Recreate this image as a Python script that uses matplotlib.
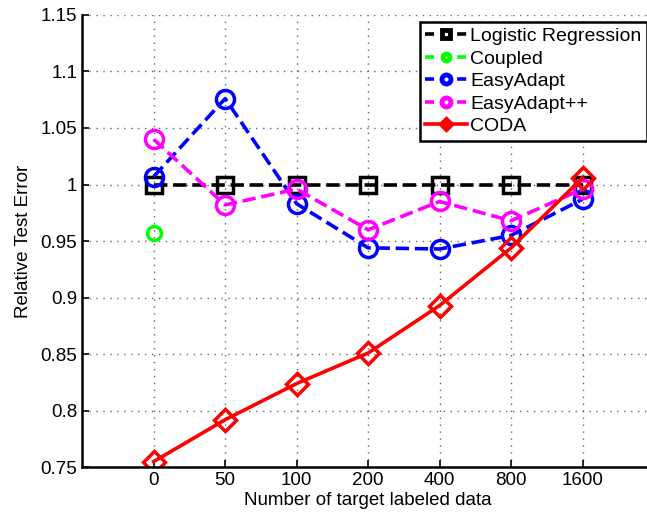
import matplotlib
matplotlib.use('Agg')
import matplotlib.pyplot as plt
from matplotlib.ticker import FuncFormatter

plt.rcParams['font.family'] = ['Liberation Sans', 'DejaVu Sans']

# data
labels = ['0', '50', '100', '200', '400', '800', '1600']
logistic = [1.0, 1.0, 1.0, 1.0, 1.0, 1.0, 1.0]
coupled = [0.957]
easyadapt = [1.007, 1.076, 0.983, 0.944, 0.943, 0.955, 0.987]
easyadaptpp = [1.040, 0.982, 0.996, 0.960, 0.985, 0.968, 0.996]
coda = [0.755, 0.792, 0.824, 0.851, 0.893, 0.944, 1.006]

x = list(range(len(labels)))

fig = plt.figure(figsize=(6.47, 5.14), dpi=100)
ax = fig.add_axes([0.127, 0.091, 0.884, 0.880])

lw = 2.6
ax.plot(x, logistic, '--', color='black', lw=lw, marker='s', ms=11, mfc='none', mew=2.5,
        label='Logistic Regression')
ax.plot(x[:1], coupled, '--', color='#00ff00', lw=lw, marker='o', ms=10, mfc='none', mew=2.5,
        label='Coupled')
ax.plot(x, easyadapt, '--', color='blue', lw=lw, marker='o', ms=13, mfc='none', mew=2.5,
        label='EasyAdapt')
ax.plot(x, easyadaptpp, '--', color='magenta', lw=lw, marker='o', ms=13, mfc='none', mew=2.5,
        label='EasyAdapt++')
ax.plot(x, coda, '-', color='red', lw=lw, marker='D', ms=11, mfc='none', mew=2.5,
        label='CODA')

ax.set_xlim(-1, 7)
ax.set_ylim(0.75, 1.15)
ax.set_xticks(x)
ax.set_xticklabels(labels)
ax.set_yticks([0.75, 0.8, 0.85, 0.9, 0.95, 1.0, 1.05, 1.1, 1.15])
ax.yaxis.set_major_formatter(FuncFormatter(lambda v, p: '%g' % round(v, 2)))

ax.grid(True, linestyle=(0, (1, 4)), color='#666666', lw=1.0)
ax.spines['top'].set_visible(False)
ax.spines['right'].set_visible(False)
ax.spines['left'].set_linewidth(1.8)
ax.spines['bottom'].set_linewidth(1.8)
ax.tick_params(direction='in', length=5, width=1.2, labelsize=13.5)

ax.set_xlabel('Number of target labeled data', fontsize=13.5, labelpad=2)
ax.set_ylabel('Relative Test Error', fontsize=13.5, labelpad=6)

leg = ax.legend(loc='upper right', fontsize=14, markerscale=0.5, handlelength=2.15,
                handletextpad=0.15, labelspacing=0.25, borderpad=0.3, borderaxespad=0,
                fancybox=False, framealpha=1, edgecolor='black',
                bbox_to_anchor=(0.988, 0.985))
leg.get_frame().set_linewidth(1.8)
# legend handles look like "- o -" in the original
for line in leg.get_lines()[:4]:
    line.set_linestyle((0, (2.5, 6.4)))
for line in leg.get_lines():
    line.set_markeredgewidth(3.5)

fig.savefig('out.png', dpi=100)
